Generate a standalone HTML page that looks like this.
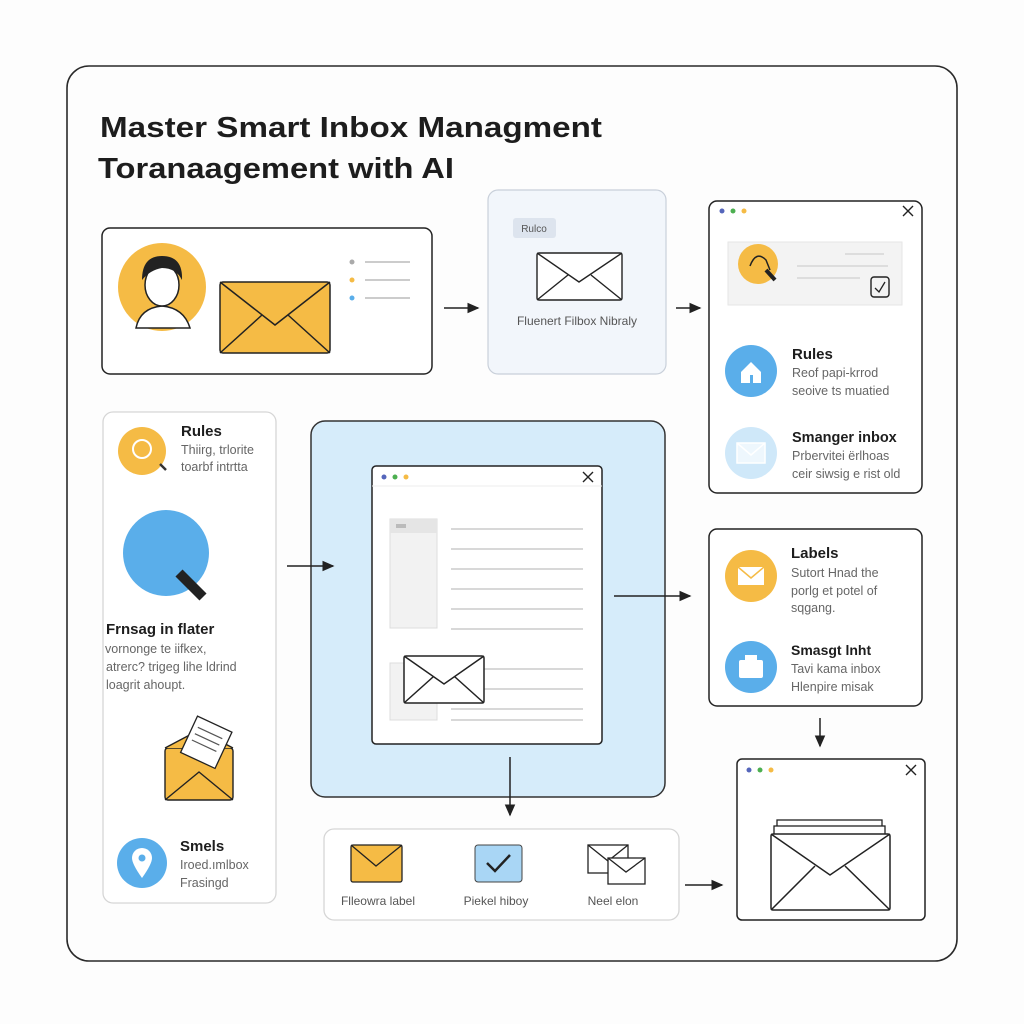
<!DOCTYPE html>
<html><head><meta charset="utf-8"><style>
html,body{margin:0;padding:0;background:#fff;width:1024px;height:1024px;overflow:hidden}
svg{display:block}
text{font-family:"Liberation Sans",sans-serif}
.h{font-weight:bold;fill:#1d1d1d}
.s{fill:#666;font-size:12.5px}
</style></head><body>
<svg width="1024" height="1024" viewBox="0 0 1024 1024">
<defs><marker id="a" markerWidth="8" markerHeight="8" refX="7" refY="4" orient="auto"><path d="M0,0.5 L8,4 L0,7.5z" fill="#222"/></marker></defs>
<rect x="0" y="0" width="1024" height="1024" fill="#fdfdfd"/>
<rect x="67" y="66" width="890" height="895" rx="22" fill="#fdfdfd" stroke="#2a2a2a" stroke-width="1.6"/>
<text x="100" y="137" class="h" font-size="29" textLength="502" lengthAdjust="spacingAndGlyphs">Master Smart Inbox Managment</text>
<text x="98" y="178" class="h" font-size="29" textLength="356" lengthAdjust="spacingAndGlyphs">Toranaagement with AI</text>

<!-- box1 -->
<rect x="102" y="228" width="330" height="146" rx="8" fill="#fff" stroke="#222" stroke-width="1.5"/>
<circle cx="162" cy="287" r="44" fill="#f5bb45"/>
<path d="M136,328 Q140,308 162,306 Q184,308 190,328Z" fill="#fff" stroke="#222" stroke-width="1.5"/>
<ellipse cx="162" cy="285" rx="17" ry="21" fill="#fff" stroke="#222" stroke-width="1.5"/>
<path d="M142,280 Q142,256 162,256 Q183,256 182,280 Q176,268 162,268 Q150,270 142,280Z" fill="#222"/>
<rect x="220" y="282" width="110" height="71" rx="3" fill="#f5bb45" stroke="#222" stroke-width="1.5"/>
<path d="M220,282 L275,325 L330,282 M220,353 L262,315 M330,353 L288,315" fill="none" stroke="#222" stroke-width="1.5"/>
<circle cx="352" cy="262" r="2.5" fill="#aaa"/><circle cx="352" cy="280" r="2.5" fill="#f5bb45"/><circle cx="352" cy="298" r="2.5" fill="#5aaeea"/>
<g stroke="#ccc" stroke-width="2"><line x1="365" y1="262" x2="410" y2="262"/><line x1="365" y1="280" x2="410" y2="280"/><line x1="365" y1="298" x2="410" y2="298"/></g>
<line x1="444" y1="308" x2="478" y2="308" stroke="#222" stroke-width="1.5" marker-end="url(#a)"/>

<!-- box2 -->
<rect x="488" y="190" width="178" height="184" rx="10" fill="#f2f6fb" stroke="#c9d0da" stroke-width="1.2"/>
<rect x="513" y="218" width="43" height="20" rx="3" fill="#dde4ee"/>
<text x="534" y="232" text-anchor="middle" font-size="10" fill="#555">Rulco</text>
<rect x="537" y="253" width="85" height="47" rx="2" fill="#fff" stroke="#222" stroke-width="1.4"/>
<path d="M537,253 L579,282 L622,253 M537,300 L568,275 M622,300 L591,275" fill="none" stroke="#222" stroke-width="1.4"/>
<text x="577" y="325" text-anchor="middle" font-size="12" fill="#555">Fluenert Filbox Nibraly</text>
<line x1="676" y1="308" x2="700" y2="308" stroke="#222" stroke-width="1.5" marker-end="url(#a)"/>

<!-- box3 -->
<rect x="709" y="201" width="213" height="292" rx="8" fill="#fff" stroke="#222" stroke-width="1.5"/>
<circle cx="722" cy="211" r="2.5" fill="#5566bb"/><circle cx="733" cy="211" r="2.5" fill="#4caf50"/><circle cx="744" cy="211" r="2.5" fill="#f5bb45"/>
<path d="M903,206 L913,216 M913,206 L903,216" stroke="#222" stroke-width="1.4"/>
<rect x="728" y="242" width="174" height="63" fill="#f3f3f3" stroke="#e6e6e6"/>
<circle cx="758" cy="264" r="20" fill="#f5bb45"/>
<path d="M750,266 Q756,250 766,260 L770,270" fill="none" stroke="#222" stroke-width="1.5"/><line x1="766" y1="270" x2="775" y2="280" stroke="#222" stroke-width="4"/>
<g stroke="#ddd" stroke-width="2"><line x1="845" y1="254" x2="884" y2="254"/><line x1="797" y1="266" x2="888" y2="266"/><line x1="797" y1="278" x2="860" y2="278"/></g>
<rect x="871" y="277" width="18" height="20" rx="3" fill="none" stroke="#222" stroke-width="1.4"/>
<path d="M875,288 L879,292 L885,282" fill="none" stroke="#222" stroke-width="1.3"/>
<circle cx="751" cy="371" r="26" fill="#5aaeea"/>
<path d="M741,372 L751,362 L761,372 L761,383 L741,383Z" fill="#fff"/><rect x="750" y="375" width="3" height="8" fill="#5aaeea"/>
<text x="792" y="359" class="h" font-size="15">Rules</text>
<text x="792" y="377" class="s">Reof papi-krrod</text>
<text x="792" y="395" class="s">seoive ts muatied</text>
<circle cx="751" cy="453" r="26" fill="#cfe8f9"/>
<rect x="737" y="443" width="28" height="20" fill="#eef7fd" stroke="#fff" stroke-width="1.5"/>
<path d="M737,443 L751,455 L765,443" fill="none" stroke="#fff" stroke-width="1.5"/>
<text x="792" y="442" class="h" font-size="14.5">Smanger inbox</text>
<text x="792" y="460" class="s">Prbervitei ërlhoas</text>
<text x="792" y="478" class="s">ceir siwsig e rist old</text>

<!-- left box -->
<rect x="103" y="412" width="173" height="491" rx="10" fill="#fff" stroke="#d6d6d6" stroke-width="1.3"/>
<circle cx="142" cy="451" r="24" fill="#f5bb45"/>
<circle cx="142" cy="449" r="9" fill="none" stroke="#fff" stroke-width="2"/><line x1="160" y1="464" x2="166" y2="470" stroke="#333" stroke-width="2.5"/>
<text x="181" y="436" class="h" font-size="15">Rules</text>
<text x="181" y="454" class="s">Thiirg, trlorite</text>
<text x="181" y="471" class="s">toarbf intrtta</text>
<circle cx="166" cy="553" r="43" fill="#5aaeea"/>
<line x1="179" y1="573" x2="203" y2="597" stroke="#222" stroke-width="10"/>
<text x="106" y="634" class="h" font-size="15">Frnsag in flater</text>
<text x="105" y="653" class="s">vornonge te iifkex,</text>
<text x="106" y="671" class="s">atrerc? trigeg lihe ldrind</text>
<text x="106" y="689" class="s">loagrit ahoupt.</text>
<rect x="165" y="748" width="68" height="52" rx="3" fill="#f5bb45" stroke="#222" stroke-width="1.4"/>
<path d="M165,748 L199,730 L233,748" fill="#f5bb45" stroke="#222" stroke-width="1.4"/>
<g transform="rotate(25 205 745)"><rect x="186" y="722" width="38" height="40" fill="#fff" stroke="#222" stroke-width="1.3"/>
<g stroke="#555" stroke-width="1.2"><line x1="191" y1="732" x2="218" y2="732"/><line x1="191" y1="739" x2="218" y2="739"/><line x1="191" y1="746" x2="218" y2="746"/></g></g>
<path d="M165,800 L199,772 L233,800" fill="none" stroke="#222" stroke-width="1.4"/>
<circle cx="142" cy="863" r="25" fill="#5aaeea"/>
<path d="M142,878 Q132,864 132,858 A10,10 0 0 1 152,858 Q152,864 142,878Z" fill="#fff"/><circle cx="142" cy="858" r="3.5" fill="#5aaeea"/>
<text x="180" y="851" class="h" font-size="15">Smels</text>
<text x="180" y="869" class="s">Iroed.ımlbox</text>
<text x="180" y="887" class="s">Frasingd</text>

<!-- center -->
<rect x="311" y="421" width="354" height="376" rx="14" fill="#d6ecfa" stroke="#333" stroke-width="1.5"/>
<line x1="287" y1="566" x2="333" y2="566" stroke="#222" stroke-width="1.5" marker-end="url(#a)"/>
<rect x="372" y="466" width="230" height="278" rx="4" fill="#fff" stroke="#222" stroke-width="1.5"/>
<line x1="372" y1="486" x2="602" y2="486" stroke="#eee"/>
<circle cx="384" cy="477" r="2.5" fill="#5566bb"/><circle cx="395" cy="477" r="2.5" fill="#4caf50"/><circle cx="406" cy="477" r="2.5" fill="#f5bb45"/>
<path d="M583,472 L593,482 M593,472 L583,482" stroke="#222" stroke-width="1.4"/>
<rect x="390" y="519" width="47" height="109" fill="#f2f2f2" stroke="#ddd"/>
<rect x="390" y="519" width="47" height="14" fill="#e5e5e5"/>
<rect x="396" y="524" width="10" height="4" fill="#bbb"/>
<g stroke="#ccc" stroke-width="1.5"><line x1="451" y1="529" x2="583" y2="529"/><line x1="451" y1="549" x2="583" y2="549"/><line x1="451" y1="569" x2="583" y2="569"/><line x1="451" y1="589" x2="583" y2="589"/><line x1="451" y1="609" x2="583" y2="609"/><line x1="451" y1="629" x2="583" y2="629"/>
<line x1="451" y1="669" x2="583" y2="669"/><line x1="451" y1="689" x2="583" y2="689"/><line x1="451" y1="709" x2="583" y2="709"/><line x1="451" y1="720" x2="583" y2="720"/></g>
<rect x="390" y="663" width="47" height="57" fill="#f2f2f2" stroke="#ddd"/>
<rect x="404" y="656" width="80" height="47" rx="2" fill="#fff" stroke="#222" stroke-width="1.5"/>
<path d="M404,656 L444,684 L484,656 M404,703 L433,677 M484,703 L455,677" fill="none" stroke="#222" stroke-width="1.5"/>

<line x1="614" y1="596" x2="690" y2="596" stroke="#222" stroke-width="1.5" marker-end="url(#a)"/>
<line x1="510" y1="757" x2="510" y2="815" stroke="#222" stroke-width="1.5" marker-end="url(#a)"/>

<!-- bottom box -->
<rect x="324" y="829" width="355" height="91" rx="10" fill="#fff" stroke="#d6d6d6" stroke-width="1.3"/>
<rect x="351" y="845" width="51" height="37" rx="2" fill="#f5bb45" stroke="#222" stroke-width="1.3"/>
<path d="M351,845 L376,866 L402,845" fill="none" stroke="#222" stroke-width="1.3"/>
<rect x="475" y="845" width="47" height="37" rx="3" fill="#a9d6f5" stroke="#444" stroke-width="1"/>
<path d="M487,863 L495,871 L510,855" fill="none" stroke="#222" stroke-width="2.5"/>
<rect x="588" y="845" width="40" height="28" fill="#fff" stroke="#222" stroke-width="1.3"/>
<path d="M588,845 L608,861 L628,845" fill="none" stroke="#222" stroke-width="1.3"/>
<rect x="608" y="858" width="37" height="26" fill="#fff" stroke="#222" stroke-width="1.3"/>
<path d="M608,858 L626,872 L645,858" fill="none" stroke="#222" stroke-width="1.3"/>
<text x="378" y="905" text-anchor="middle" font-size="12" fill="#555">Flleowra label</text>
<text x="496" y="905" text-anchor="middle" font-size="12" fill="#555">Piekel hiboy</text>
<text x="613" y="905" text-anchor="middle" font-size="12" fill="#555">Neel elon</text>
<line x1="685" y1="885" x2="722" y2="885" stroke="#222" stroke-width="1.5" marker-end="url(#a)"/>

<!-- labels box -->
<rect x="709" y="529" width="213" height="177" rx="8" fill="#fff" stroke="#222" stroke-width="1.5"/>
<circle cx="751" cy="576" r="26" fill="#f5bb45"/>
<rect x="738" y="567" width="26" height="18" fill="#fff"/><path d="M738,567 L751,578 L764,567" fill="none" stroke="#f5bb45" stroke-width="1.5"/>
<text x="791" y="558" class="h" font-size="15">Labels</text>
<text x="791" y="577" class="s">Sutort Hnad the</text>
<text x="791" y="595" class="s">porlg et potel of</text>
<text x="791" y="612" class="s">sqgang.</text>
<circle cx="751" cy="667" r="26" fill="#5aaeea"/>
<rect x="739" y="660" width="24" height="18" rx="2" fill="#fff"/><rect x="745" y="655" width="12" height="6" fill="#fff"/>
<text x="791" y="655" class="h" font-size="14">Smasgt lnht</text>
<text x="791" y="673" class="s">Tavi kama inbox</text>
<text x="791" y="691" class="s">Hlenpire misak</text>
<line x1="820" y1="718" x2="820" y2="746" stroke="#222" stroke-width="1.5" marker-end="url(#a)"/>

<!-- bottom right window -->
<rect x="737" y="759" width="188" height="161" rx="5" fill="#fff" stroke="#222" stroke-width="1.5"/>
<circle cx="749" cy="770" r="2.5" fill="#5566bb"/><circle cx="760" cy="770" r="2.5" fill="#4caf50"/><circle cx="771" cy="770" r="2.5" fill="#f5bb45"/>
<path d="M906,765 L916,775 M916,765 L906,775" stroke="#222" stroke-width="1.4"/>
<rect x="777" y="820" width="105" height="30" fill="#fff" stroke="#222" stroke-width="1.3"/>
<rect x="774" y="826" width="111" height="30" fill="#fff" stroke="#222" stroke-width="1.3"/>
<rect x="771" y="834" width="119" height="76" rx="2" fill="#fff" stroke="#222" stroke-width="1.5"/>
<path d="M771,834 L830,875 L890,834 M771,910 L815,866 M890,910 L845,866" fill="none" stroke="#222" stroke-width="1.5"/>
</svg>
</body></html>
